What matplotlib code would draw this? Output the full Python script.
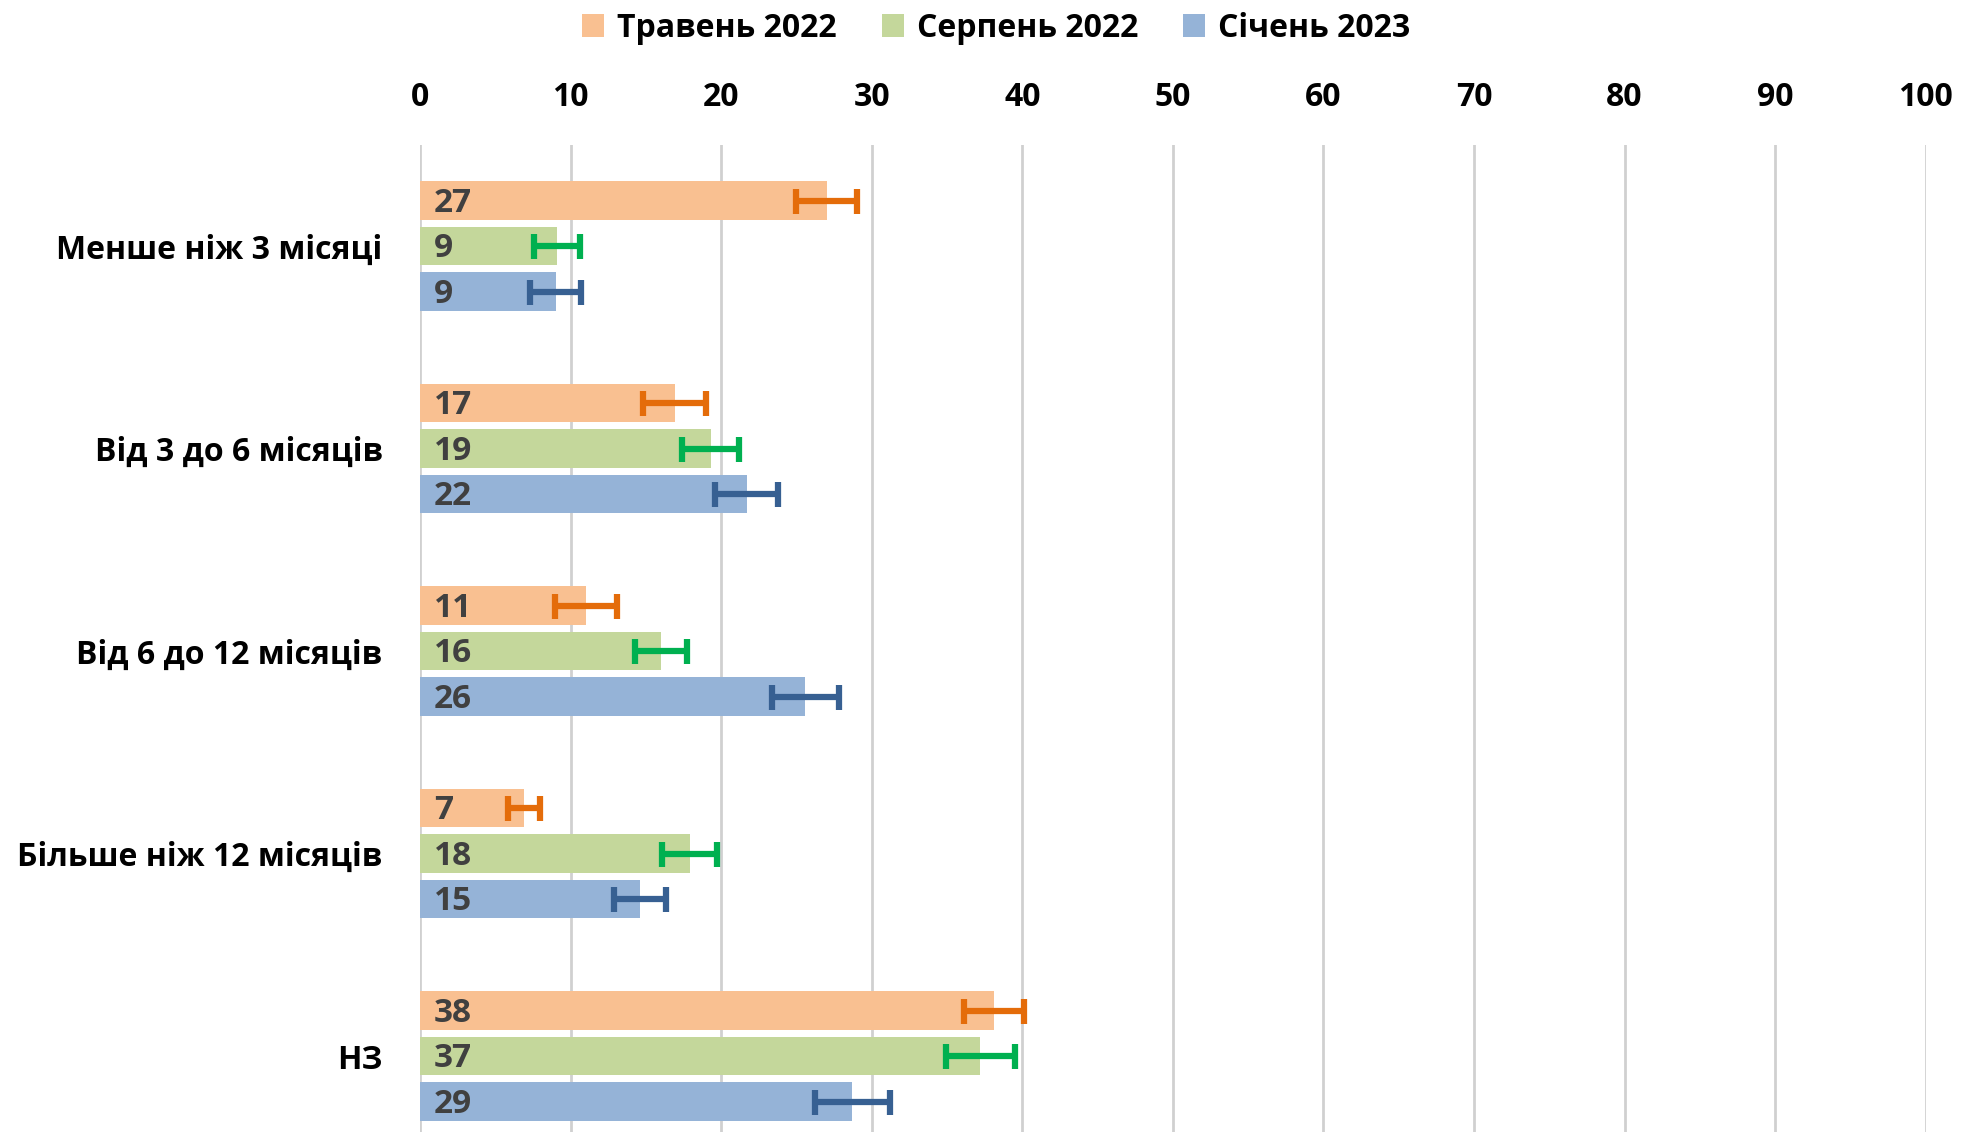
import matplotlib
matplotlib.use("Agg")
import matplotlib.pyplot as plt
import numpy as np
from matplotlib.patches import Patch

plt.rcParams['font.family'] = ['Open Sans', 'DejaVu Sans']

categories = ["Менше ніж 3 місяці", "Від 3 до 6 місяців", "Від 6 до 12 місяців",
              "Більше ніж 12 місяців", "НЗ"]
series_names = ["Травень 2022", "Серпень 2022", "Січень 2023"]
may_2022 = [27.0, 16.9, 11.0, 6.9, 38.1]
aug_2022 = [9.1, 19.3, 16.0, 17.9, 37.2]
jan_2023 = [9.0, 21.7, 25.6, 14.6, 28.7]
may_err = [2.0, 2.1, 2.05, 1.05, 2.0]
aug_err = [1.5, 1.9, 1.7, 1.8, 2.3]
jan_err = [1.7, 2.1, 2.2, 1.75, 2.5]
x_ticks = [0, 10, 20, 30, 40, 50, 60, 70, 80, 90, 100]

bar_colors = ["#F9C091", "#C4D79B", "#95B3D7"]
err_colors = ["#E46C0A", "#00B050", "#376092"]

fig = plt.figure(figsize=(19.61, 11.32), dpi=100)
ax = fig.add_axes([0.2142, 0.0, 0.982 - 0.2142, 0.872])

y = np.arange(len(categories))
step = 0.225
height = 0.19
for i, (vals, errs) in enumerate(zip([may_2022, aug_2022, jan_2023],
                                     [may_err, aug_err, jan_err])):
    pos = y + (i - 1) * step
    ax.barh(pos, vals, height=height, color=bar_colors[i], zorder=2)
    ax.errorbar(vals, pos, xerr=errs, fmt='none', ecolor=err_colors[i],
                elinewidth=4.5, capsize=9, capthick=4.5, zorder=3)
    for p, v in zip(pos, vals):
        ax.annotate(f"{round(v):d}", xy=(0, p), xytext=(10, -2), textcoords='offset points',
                    ha='left', va='center', fontsize=24, fontweight='bold', color='#404040',
                    zorder=4)

ax.set_xlim(0, 100)
ax.set_ylim(4.375, -0.5)
ax.set_xticks(x_ticks)
ax.xaxis.tick_top()
ax.tick_params(axis='x', length=0, pad=22, labelsize=23)
for lab in ax.get_xticklabels():
    lab.set_fontweight('bold')
ax.set_yticks(y)
ax.set_yticklabels(categories, fontsize=23, fontweight='bold')
ax.tick_params(axis='y', length=0, pad=27)
ax.grid(axis='x', color='#D0D0D0', linewidth=2, zorder=0)
ax.set_axisbelow(True)
for s in ax.spines.values():
    s.set_visible(False)

handles = [Patch(facecolor=c, edgecolor='none') for c in bar_colors]
leg = fig.legend(handles, series_names, loc='center', bbox_to_anchor=(0.508, 0.975),
                 ncol=3, frameon=False, prop={'size': 23, 'weight': 'bold'},
                 handlelength=0.7, handleheight=0.7, handletextpad=0.4, columnspacing=1.4)

fig.savefig("out.png", dpi=100, facecolor='white')
